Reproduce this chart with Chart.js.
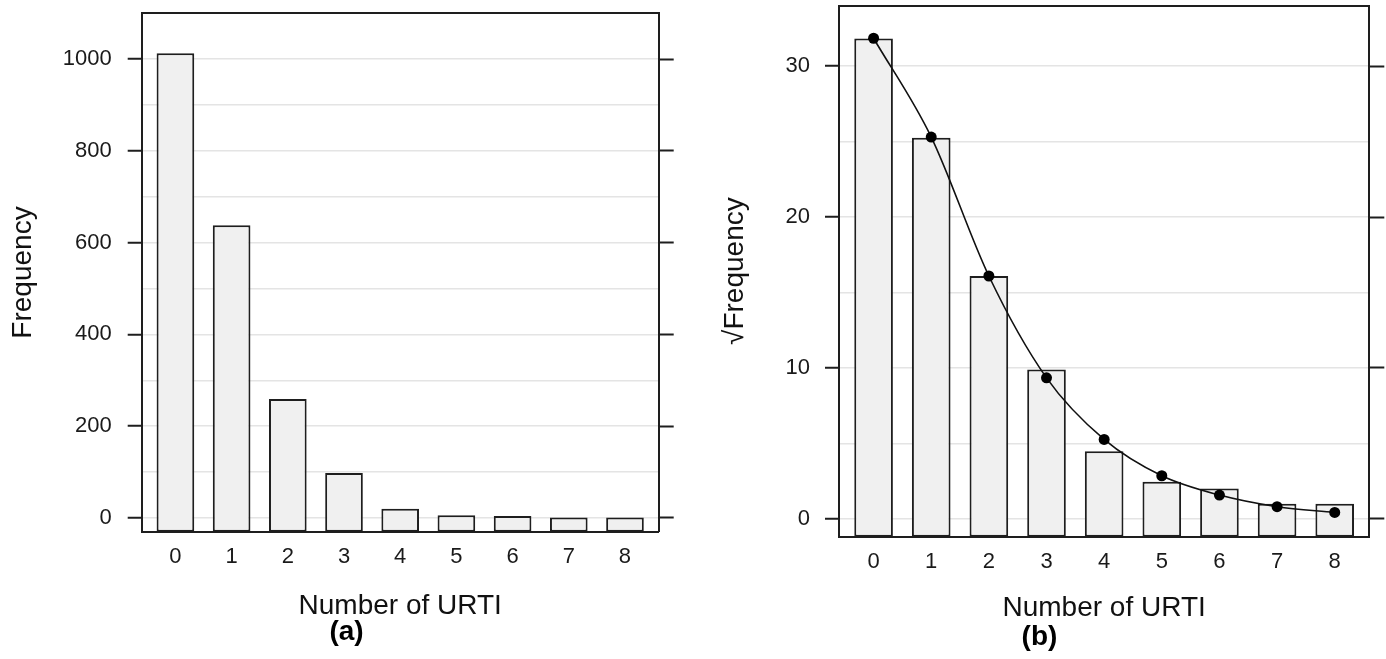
<!DOCTYPE html>
<html>
<head>
<meta charset="utf-8">
<script src="https://cdn.jsdelivr.net/npm/chart.js@4/dist/chart.umd.min.js"></script>
<style>
  html, body { margin: 0; padding: 0; background: #fff; }
  #wrap { position: relative; width: 1386px; height: 659px; }
  .panel { position: absolute; top: 0; width: 693px; height: 659px; }
  #pa { left: 0; }
  #pb { left: 693px; }
</style>
</head>
<body>
<div id="wrap">
  <div class="panel" id="pa"><canvas id="ca" width="693" height="659"></canvas></div>
  <div class="panel" id="pb"><canvas id="cb" width="693" height="659"></canvas></div>
</div>
<script>
// ---- data ----
const urti = [0, 1, 2, 3, 4, 5, 6, 7, 8];
const frequency = [1013, 638, 259, 98, 20, 6, 4, 1, 1];
const sqrtFrequency = [31.83, 25.26, 16.09, 9.9, 4.47, 2.45, 2.0, 1.0, 1.0];
const sqrtFitted = [31.85, 25.3, 16.09, 9.34, 5.26, 2.85, 1.57, 0.80, 0.42];
const freqTickLabels = [0, 200, 400, 600, 800, 1000];
const freqGridValues = [0, 100, 200, 300, 400, 500, 600, 700, 800, 900, 1000];
const sqrtTickLabels = [0, 10, 20, 30];
const sqrtGridValues = [0, 5, 10, 15, 20, 25, 30];
const xTitle = 'Number of URTI';

const FONT = "'Liberation Sans', Arial, Helvetica, sans-serif";
const DARK = '#1e1e1e';
const GRID = '#e4e4e4';
const BAR_FILL = '#f0f0f0';

function makeChart(canvasId, cfg) {
  const xMin = -0.6, xMax = 8.6;
  const labelled = cfg.tickLabels;
  const setTicks = vals => scale => { scale.ticks = vals.map(v => ({ value: v })); };
  const noPad = s => { s.paddingTop = 0; s.paddingBottom = 0; s.paddingLeft = 0; s.paddingRight = 0; };
  const tickCol = ctx => (ctx.tick && labelled.includes(ctx.tick.value)) ? DARK : 'rgba(0,0,0,0)';
  const datasets = [{
    type: 'bar',
    data: urti.map((u, i) => ({ x: u, y: cfg.bars[i] })),
    backgroundColor: BAR_FILL,
    borderColor: DARK,
    borderWidth: 2,
    borderSkipped: false,
    base: cfg.yMin,
    barPercentage: 0.67,
    categoryPercentage: 1.0,
    order: 2
  }];
  if (cfg.line) {
    datasets.push({
      type: 'line',
      data: urti.map((u, i) => ({ x: u, y: cfg.line[i] })),
      borderColor: '#111',
      borderWidth: 1.6,
      backgroundColor: '#000',
      pointBackgroundColor: '#000',
      pointBorderColor: '#000',
      pointRadius: 5.5,
      pointBorderWidth: 0,
      cubicInterpolationMode: 'monotone',
      fill: false,
      order: 1
    });
  }
  return new Chart(document.getElementById(canvasId), {
    type: 'bar',
    data: { datasets },
    options: {
      responsive: false,
      animation: false,
      devicePixelRatio: 1,
      layout: { padding: { top: cfg.padTop, left: 0, right: 0, bottom: 0 } },
      plugins: {
        legend: { display: false },
        tooltip: { enabled: false },
        title: {
          display: true,
          position: 'bottom',
          text: cfg.panel,
          color: '#000',
          font: { family: FONT, size: 28, weight: 'bold', lineHeight: 1 },
          padding: { top: 0, bottom: cfg.panelPadBottom }
        }
      },
      scales: {
        x: {
          type: 'linear',
          position: 'bottom',
          offset: false,
          min: xMin, max: xMax,
          afterBuildTicks: setTicks(urti),
          afterFit: s => { s.height = 86.3; noPad(s); },
          ticks: {
            color: '#1a1a1a',
            font: { family: FONT, size: 22 },
            padding: 12,
            maxRotation: 0,
            autoSkip: false,
            callback: v => String(v)
          },
          grid: { display: true, drawOnChartArea: false, drawTicks: false, color: 'rgba(0,0,0,0)' },
          border: { display: true, color: DARK, width: 2 },
          title: {
            display: true,
            text: xTitle,
            color: '#111',
            font: { family: FONT, size: 28, lineHeight: 1 },
            padding: { top: 0, bottom: cfg.xTitlePadBottom }
          }
        },
        x2: {
          type: 'linear',
          position: 'top',
          offset: false,
          min: xMin, max: xMax,
          afterFit: s => { s.height = 0; noPad(s); },
          ticks: { display: false },
          grid: { display: true, drawOnChartArea: false, drawTicks: false, color: 'rgba(0,0,0,0)' },
          border: { display: true, color: DARK, width: 2 }
        },
        y: {
          type: 'linear',
          position: 'left',
          min: cfg.yMin, max: cfg.yMax,
          afterBuildTicks: setTicks(cfg.gridValues),
          afterFit: s => { s.width = cfg.yWidth; noPad(s); },
          ticks: {
            color: '#1a1a1a',
            font: { family: FONT, size: 22 },
            padding: cfg.yTickPad,
            autoSkip: false,
            callback: v => labelled.includes(v) ? String(v) : ''
          },
          grid: {
            display: true,
            drawOnChartArea: true,
            drawTicks: true,
            tickLength: 14,
            color: GRID,
            lineWidth: 1.5,
            tickColor: tickCol,
            tickWidth: 2
          },
          border: { display: true, color: DARK, width: 2 },
          title: {
            display: true,
            text: cfg.yTitle,
            color: '#111',
            font: { family: FONT, size: 28, lineHeight: 1 },
            padding: { top: cfg.yTitlePad, bottom: 0 }
          }
        },
        y2: {
          type: 'linear',
          position: 'right',
          min: cfg.yMin, max: cfg.yMax,
          afterBuildTicks: setTicks(cfg.gridValues),
          afterFit: s => { s.width = cfg.y2Width; noPad(s); },
          ticks: { display: false },
          grid: {
            display: true,
            drawOnChartArea: false,
            drawTicks: true,
            tickLength: 15,
            color: 'rgba(0,0,0,0)',
            tickColor: tickCol,
            tickWidth: 2
          },
          border: { display: true, color: DARK, width: 2 }
        }
      }
    }
  });
}

makeChart('ca', {
  bars: frequency,
  line: null,
  yMin: -30, yMax: 1100,
  tickLabels: freqTickLabels,
  gridValues: freqGridValues,
  yTitle: 'Frequency',
  panel: '(a)',
  padTop: 13.3,
  yWidth: 141.7,
  y2Width: 34.3,
  yTickPad: 16,
  yTitlePad: 9,
  panelPadBottom: 13,
  xTitlePadBottom: -2
});

makeChart('cb', {
  bars: sqrtFrequency,
  line: sqrtFitted,
  yMin: -1.19, yMax: 34.02,
  tickLabels: sqrtTickLabels,
  gridValues: sqrtGridValues,
  yTitle: '\u221AFrequency',
  panel: '(b)',
  padTop: 5,
  yWidth: 146,
  y2Width: 16.7,
  yTickPad: 15,
  yTitlePad: 28,
  panelPadBottom: 8,
  xTitlePadBottom: 1
});
</script>
</body>
</html>
